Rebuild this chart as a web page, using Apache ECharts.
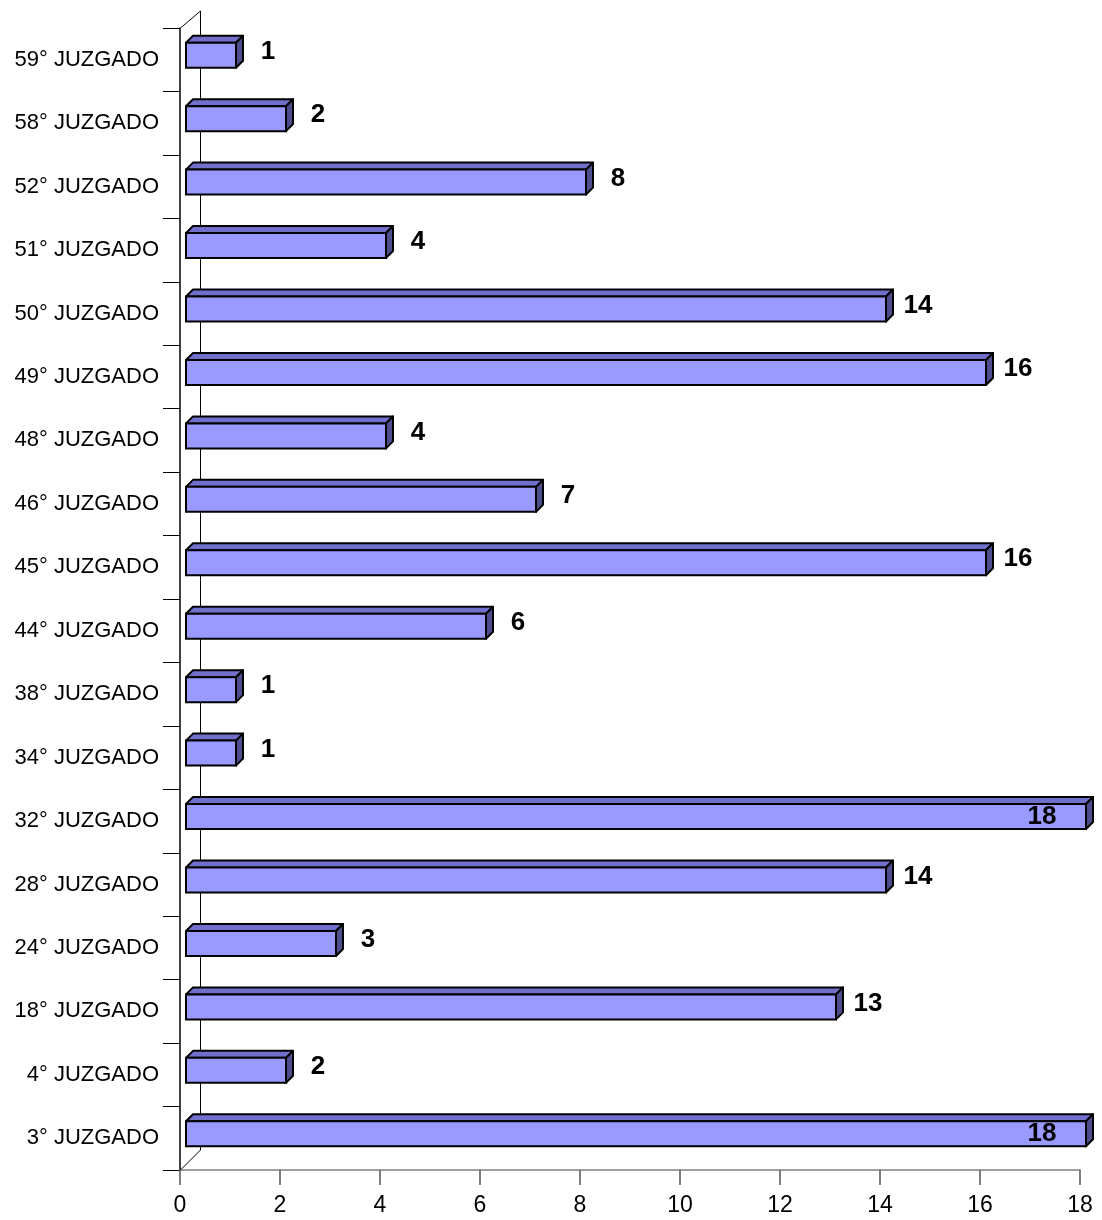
<!DOCTYPE html>
<html>
<head>
<meta charset="utf-8">
<script src="https://cdn.jsdelivr.net/npm/echarts@6/dist/echarts.min.js"></script>
<style>
  html, body { margin: 0; padding: 0; background: #fff; }
  #chart { width: 1102px; height: 1220px; }
</style>
</head>
<body>
<div id="chart"></div>
<script>
// Categories listed bottom to top
const categories = ['3° JUZGADO','4° JUZGADO','18° JUZGADO','24° JUZGADO','28° JUZGADO','32° JUZGADO','34° JUZGADO','38° JUZGADO','44° JUZGADO','45° JUZGADO','46° JUZGADO','48° JUZGADO','49° JUZGADO','50° JUZGADO','51° JUZGADO','52° JUZGADO','58° JUZGADO','59° JUZGADO'];
const values = [18, 2, 13, 3, 14, 18, 1, 1, 6, 16, 7, 4, 16, 14, 4, 8, 2, 1];
const xTicks = [0, 2, 4, 6, 8, 10, 12, 14, 16, 18];

const FONT = '"Liberation Sans", Arial, sans-serif';
const chart = echarts.init(document.getElementById('chart'), null, { renderer: 'canvas' });

const barData = values.map((v, i) => [v, i]);

function renderBar(params, api) {
  const v = api.value(0), cat = api.value(1);
  const p0 = api.coord([0, cat]);
  const p1 = api.coord([v, cat]);
  const band = api.size([0, 1])[1];
  const h = band * 0.394;
  const off = 6, d = 7;
  const x0 = p0[0] + off, x1 = p1[0] + off;
  const yc = p0[1] - 4.5;
  const yt = yc - h / 2, yb = yc + h / 2;
  const cs = params.coordSys;
  const stroke = '#000';
  const lw = 2;
  let lx, ly = yc - 3.5;
  if (x1 + d + 24 + 14 > cs.x + cs.width + 22) {
    lx = x1 - 44;
    ly = yc;
  } else {
    lx = x1 + d + 25;
  }
  return {
    type: 'group',
    children: [
      { type: 'polygon', shape: { points: [[x0, yt], [x0 + d, yt - d], [x1 + d, yt - d], [x1, yt]] },
        style: { fill: '#7070CC', stroke: stroke, lineWidth: lw, lineJoin: 'round' } },
      { type: 'polygon', shape: { points: [[x1, yt], [x1 + d, yt - d], [x1 + d, yb - d], [x1, yb]] },
        style: { fill: '#4E4E8E', stroke: stroke, lineWidth: lw, lineJoin: 'round' } },
      { type: 'rect', shape: { x: x0, y: yt, width: x1 - x0, height: h },
        style: { fill: '#9999FF', stroke: stroke, lineWidth: lw } },
      { type: 'text', z2: 10,
        style: { text: String(v), x: lx, y: ly, align: 'center', verticalAlign: 'middle',
                 textAlign: 'center', textVerticalAlign: 'middle',
                 font: 'bold 26px ' + FONT, fill: '#000' } }
    ]
  };
}

function renderWall(params, api) {
  const cs = params.coordSys;
  const d = 20, dy = 17;
  const left = Math.round(cs.x) + 0.5, top = cs.y, bottom = cs.y + cs.height;
  const st = { stroke: '#000', lineWidth: 1, fill: null };
  return {
    type: 'group',
    children: [
      { type: 'line', shape: { x1: left + d, y1: top - dy, x2: left + d, y2: bottom - d }, style: st },
      { type: 'line', shape: { x1: left, y1: top, x2: left + d, y2: top - dy }, style: st },
      { type: 'line', shape: { x1: left, y1: bottom, x2: left + d, y2: bottom - d }, style: st }
    ]
  };
}

chart.setOption({
  animation: false,
  backgroundColor: '#fff',
  grid: { left: 180, right: 22, top: 28, bottom: 50, containLabel: false },
  xAxis: {
    type: 'value', min: 0, max: 18, interval: 2,
    axisLine: { show: true, lineStyle: { color: '#808080', width: 1.5 } },
    axisTick: { show: true, length: 15, lineStyle: { color: '#555', width: 1.5 } },
    splitLine: { show: false },
    axisLabel: {
      color: '#000', fontSize: 23, fontFamily: FONT, margin: 24,
      formatter: (val) => (xTicks.indexOf(val) >= 0 ? String(val) : '')
    }
  },
  yAxis: {
    type: 'category', data: categories, boundaryGap: true,
    axisLine: { show: true, lineStyle: { color: '#000', width: 1.5 } },
    axisTick: { show: true, length: 17, lineStyle: { color: '#000', width: 1 } },
    axisLabel: { color: '#000', fontSize: 22, fontFamily: FONT, margin: 21 },
    splitLine: { show: false }
  },
  series: [
    { type: 'custom', renderItem: renderWall, data: [[0, 0]], z: 1, silent: true,
      encode: { x: 0, y: 1 } },
    { type: 'custom', renderItem: renderBar, data: barData, z: 3,
      encode: { x: 0, y: 1 } }
  ]
});
</script>
</body>
</html>
